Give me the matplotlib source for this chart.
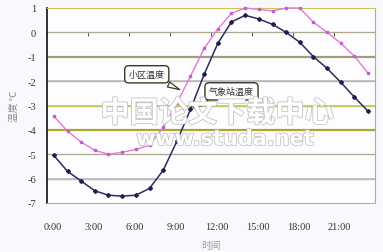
import matplotlib
matplotlib.use("Agg")
import matplotlib.pyplot as plt
import matplotlib.patheffects as pe

plt.rcParams['font.family'] = ['Liberation Serif', 'Noto Sans CJK SC']

hours = list(range(24))
tick_hours = [0, 3, 6, 9, 12, 15, 18, 21]
tick_labels = ['0:00', '3:00', '6:00', '9:00', '12:00', '15:00', '18:00', '21:00']

# 气象站温度
station = [-5.05, -5.7, -6.1, -6.5, -6.68, -6.72, -6.68, -6.4, -5.66, -4.47, -3.16, -1.72,
           -0.45, 0.43, 0.7, 0.55, 0.33, 0.0, -0.41, -1.0, -1.48, -2.05, -2.66, -3.24]
# 小区温度
district = [-3.44, -4.05, -4.5, -4.84, -5.0, -4.92, -4.8, -4.63, -3.9, -2.9, -1.8, -0.66,
            0.14, 0.78, 1.0, 0.94, 0.88, 1.0, 1.0, 0.41, 0.0, -0.45, -0.98, -1.68]

fig = plt.figure(figsize=(3.83, 2.53), dpi=100, facecolor='#f9f9fd')
ax = fig.add_axes([47/383, 1 - 204/253, 328/383, 195/253])
ax.set_facecolor('#fdfdff')

xs = [h + 0.5 for h in hours]

# gridlines
for v in range(-6, 1):
    thick = v in (-1, -4)
    ax.axhline(v, color='#a8a832' if thick else '#c4c45a', lw=1.6 if thick else 1.0, zorder=1)
    ax.axhline(v + 0.03, color='#9a8ccc', lw=0.5, alpha=0.7, zorder=1)

ax.plot(xs, district, color='#e678d8', lw=1.0, marker='s', ms=2.0,
        mfc='#c060c8', mec='#c060c8', zorder=3, clip_on=False)
ax.plot(xs, station, color='#2c2c64', lw=1.1, marker='D', ms=2.0,
        mfc='#202050', mec='#202050', zorder=4)

ax.set_xlim(0, 24)
ax.set_ylim(-7, 1)
ax.set_yticks(range(-7, 2))
ax.set_yticklabels([str(v) for v in range(-7, 2)], fontsize=7.5, color='#333333')
ax.tick_params(axis='y', length=0, pad=8)
ax.set_xticks([h + 0.4 for h in tick_hours])
ax.set_xticklabels(tick_labels, fontsize=7.5, color='#333333')
ax.tick_params(axis='x', length=0, pad=14)

for s in ax.spines.values():
    s.set_linewidth(0.8)
ax.spines['left'].set_color('#222222')
ax.spines['left'].set_linewidth(1.3)
ax.spines['top'].set_color('#c8c85a')
ax.spines['bottom'].set_color('#b0a8c8')
ax.spines['right'].set_color('#aaaaaa')

# small category ticks sitting on the 0 line
sec = ax.secondary_xaxis(7/8)
sec.set_xticks(range(0, 25, 3))
sec.set_xticklabels([])
sec.tick_params(direction='in', length=3, width=0.7, color='#555555')
sec.spines['bottom'].set_visible(False)
sec.spines['top'].set_visible(False)

ax.set_ylabel('温度 ℃', fontsize=7, color='#888888', family=['Noto Sans CJK SC'], labelpad=6)
ax.set_xlabel('时间', fontsize=7, color='#999999', family=['Noto Sans CJK SC'], labelpad=6)

box = dict(boxstyle='round,pad=0.45', fc='#fdfdff', ec='#3a3a20', lw=1.0)
arrow = dict(arrowstyle='wedge,tail_width=0.6', fc='#fdfdff', ec='#3a3a20', lw=0.9)
ax.annotate('小区温度', xy=(9.9, -2.4), xytext=(7.3, -1.72), ha='center', va='center',
            fontsize=6.5, family=['Noto Sans CJK SC'], color='#333333', bbox=box,
            arrowprops=arrow, zorder=6)
ax.annotate('气象站温度', xy=(10.5, -3.15), xytext=(13.5, -2.42), ha='center', va='center',
            fontsize=6.5, family=['Noto Sans CJK SC'], color='#333333', bbox=box,
            arrowprops=arrow, zorder=6)

# watermark
hollow = [pe.Stroke(linewidth=1.2, foreground='#c4c4c4'), pe.Normal()]
fig.text(217/383, 1 - 114/253, '中国论文下载中心', ha='center', va='center', fontsize=21,
         fontweight='bold', color='white', family=['Noto Sans CJK SC'], path_effects=hollow)
fig.text(225/383, 1 - 140/253, 'www.studa.net', ha='center', va='center', fontsize=15,
         fontweight='bold', color='white', family=['DejaVu Sans'], path_effects=hollow)

fig.savefig('out.png', dpi=100, facecolor=fig.get_facecolor())
